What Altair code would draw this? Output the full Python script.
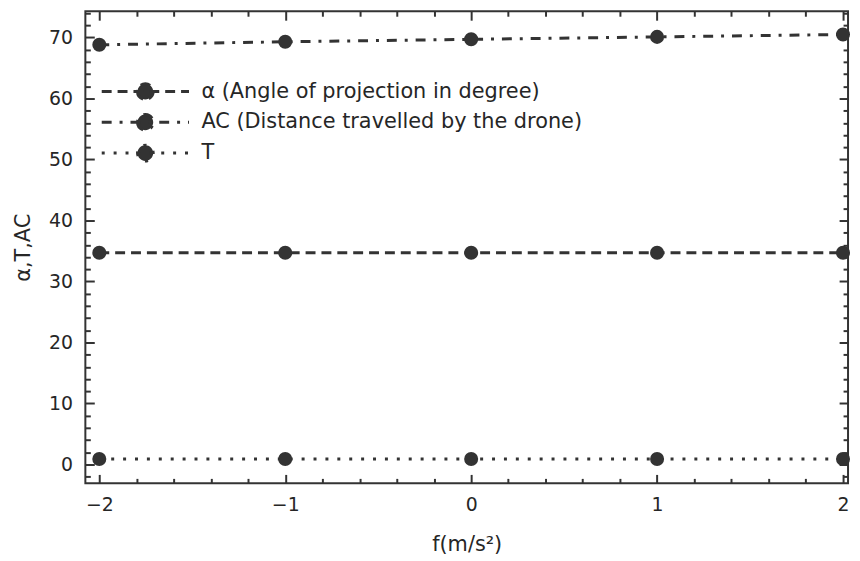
import altair as alt
import pandas as pd

# ---- data ----
f_vals = [-2, -1, 0, 1, 2]
alpha_vals = [34.7, 34.7, 34.7, 34.7, 34.7]
ac_vals = [68.8, 69.3, 69.7, 70.1, 70.5]
t_vals = [0.9, 0.9, 0.9, 0.9, 0.9]

series_names = [
    "α (Angle of projection in degree)",
    "AC (Distance travelled by the drone)",
    "T",
]
dash_patterns = [[10, 6], [10, 8, 3, 8], [3, 9]]

x_major = [-2, -1, 0, 1, 2]
x_minor = [-1.8, -1.6, -1.4, -1.2, -0.8, -0.6, -0.4, -0.2,
           0.2, 0.4, 0.6, 0.8, 1.2, 1.4, 1.6, 1.8]
y_major = [0, 10, 20, 30, 40, 50, 60, 70]
y_minor = [-2, 2, 4, 6, 8, 12, 14, 16, 18, 22, 24, 26, 28, 32, 34, 36, 38,
           42, 44, 46, 48, 52, 54, 56, 58, 62, 64, 66, 68, 72, 74]

rows = []
for name, vals in zip(series_names, [alpha_vals, ac_vals, t_vals]):
    for fv, v in zip(f_vals, vals):
        rows.append({"f": fv, "value": v, "series": name})
df = pd.DataFrame(rows)

W, H = 769, 476
INK = "#333333"
TXT = "#262626"
FONT = "DejaVu Sans"

xs = alt.Scale(domain=[-2.075, 2.027], nice=False, zero=False)
ys = alt.Scale(domain=[-3.09, 74.3], nice=False, zero=False)


def tick_axis(orient, values, size, offset):
    return alt.Axis(orient=orient, values=values, tickSize=size, offset=offset,
                    labels=False, domain=False, grid=False, title=None,
                    ticks=True, tickColor=INK, tickWidth=2)


legend_symbol = ("M-1,0L1,0M-0.18,0A0.18,0.18,0,1,0,0.18,0"
                 "A0.18,0.18,0,1,0,-0.18,0Z")

base = alt.Chart(df)

lines = base.mark_line(strokeWidth=3, color=INK).encode(
    x=alt.X("f:Q", scale=xs, axis=alt.Axis(
        orient="bottom", values=x_major, title="f(m/s²)", ticks=False,
        tickSize=0, domain=False, grid=False, labelPadding=12,
        labelFontSize=19, labelColor=TXT, labelFont=FONT,
        titleFontSize=21, titleFont=FONT, titleColor=TXT,
        titleFontWeight="normal", titlePadding=20)),
    y=alt.Y("value:Q", scale=ys, axis=alt.Axis(
        orient="left", values=y_major, title="α,T,AC", ticks=False,
        tickSize=0, domain=False, grid=False, labelPadding=13,
        labelFontSize=19, labelColor=TXT, labelFont=FONT,
        titleFontSize=21, titleFont=FONT, titleColor=TXT,
        titleFontWeight="normal", titlePadding=15)),
    strokeDash=alt.StrokeDash("series:N", scale=alt.Scale(
        domain=series_names, range=dash_patterns), legend=alt.Legend(
        title=None, orient="none", legendX=15, legendY=71, padding=0,
        symbolType=legend_symbol, symbolSize=7744, symbolStrokeWidth=3,
        symbolStrokeColor=INK, symbolFillColor=INK, clipHeight=20,
        rowPadding=10, labelOffset=11, labelFontSize=21, labelFont=FONT,
        labelColor=TXT, labelLimit=700)),
)

points = base.mark_circle(size=200, color=INK, opacity=1).encode(
    x=alt.X("f:Q", scale=xs, axis=tick_axis("top", x_major, 9, -H)),
    y=alt.Y("value:Q", scale=ys, axis=tick_axis("right", y_major, 9, -W)),
)

ghost1 = base.mark_circle(opacity=0).encode(
    x=alt.X("f:Q", scale=xs, axis=tick_axis("top", x_minor, 5, -H)),
    y=alt.Y("value:Q", scale=ys, axis=tick_axis("right", y_minor, 5, -W)),
)
ghost2 = base.mark_circle(opacity=0).encode(
    x=alt.X("f:Q", scale=xs, axis=tick_axis("bottom", x_major, 9, -H)),
    y=alt.Y("value:Q", scale=ys, axis=tick_axis("left", y_major, 9, -W)),
)
ghost3 = base.mark_circle(opacity=0).encode(
    x=alt.X("f:Q", scale=xs, axis=tick_axis("bottom", x_minor, 5, -H)),
    y=alt.Y("value:Q", scale=ys, axis=tick_axis("left", y_minor, 5, -W)),
)

chart = alt.layer(lines, points, ghost1, ghost2, ghost3).resolve_axis(
    x="independent", y="independent"
).properties(
    width=W, height=H,
    autosize=alt.AutoSizeParams(type="none"),
    padding={"left": 78, "top": 1, "right": 4, "bottom": 76},
    background="white",
).configure_view(stroke=INK, strokeWidth=2)

chart.save("out.html", embed_options={"renderer": "svg", "actions": False})
